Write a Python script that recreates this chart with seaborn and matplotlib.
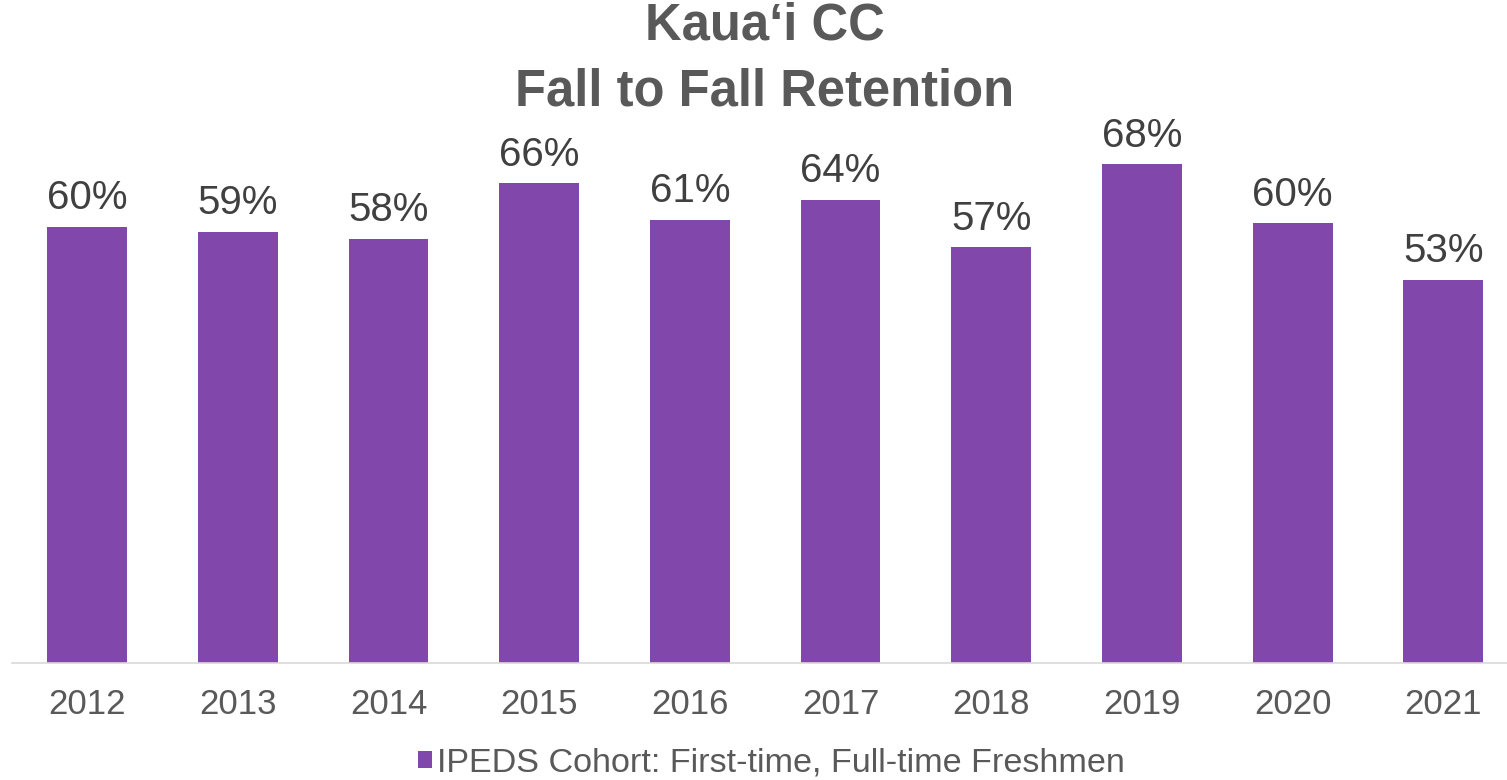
import matplotlib
matplotlib.use("Agg")
import matplotlib.pyplot as plt
from matplotlib.patches import Patch
import seaborn as sns

# chart data
years = ["2012", "2013", "2014", "2015", "2016", "2017", "2018", "2019", "2020", "2021"]
retention = [59.85, 59.2, 58.2, 65.85, 60.8, 63.6, 57.06, 68.46, 60.36, 52.57]
series_name = "IPEDS Cohort: First-time, Full-time Freshmen"
title_line1 = "Kaua\u2018i CC"
title_line2 = "Fall to Fall Retention"

bar_color = "#8147AA"
grey = "#595959"

sns.set_style("white")
plt.rcParams['font.family'] = ['Liberation Sans', 'DejaVu Sans']

fig = plt.figure(figsize=(15.07, 7.8), dpi=100)
ax = fig.add_axes([0.00776, 0.1504, 1.0, 0.672])

sns.barplot(x=years, y=retention, color=bar_color, width=0.53,
            linewidth=0, saturation=1, ax=ax)

ax.set_ylim(0, 72)
ax.set_xlim(-0.5, len(years) - 0.5)
ax.set_xlabel("")
ax.set_ylabel("")
ax.set_yticks([])

for side in ["top", "right", "left"]:
    ax.spines[side].set_visible(False)
ax.spines["bottom"].set_color("#D9D9D9")
ax.spines["bottom"].set_linewidth(1.2)

ax.tick_params(axis="x", length=0, pad=18, labelsize=25, labelcolor=grey)

# data labels
ax.bar_label(ax.containers[0], labels=[f"{v:.0f}%" for v in retention],
             padding=7, fontsize=29, color="#404040")

# title
fig.text(0.5076, 1 - 40 / 780, title_line1, ha="center", va="baseline",
         fontsize=36.5, fontweight="bold", color=grey)
fig.text(0.5076, 1 - 106 / 780, title_line2, ha="center", va="baseline",
         fontsize=36.5, fontweight="bold", color=grey)

# legend
handle = Patch(facecolor=bar_color, edgecolor="none", label=series_name)
leg = ax.legend(handles=[handle], loc="center", bbox_to_anchor=(0.512, 1 - 763 / 780),
                bbox_transform=fig.transFigure, frameon=False,
                handlelength=0.4, handleheight=0.4, handletextpad=0.15,
                prop={"size": 24.6})
for t in leg.get_texts():
    t.set_color(grey)

fig.savefig("out.png", dpi=100)
